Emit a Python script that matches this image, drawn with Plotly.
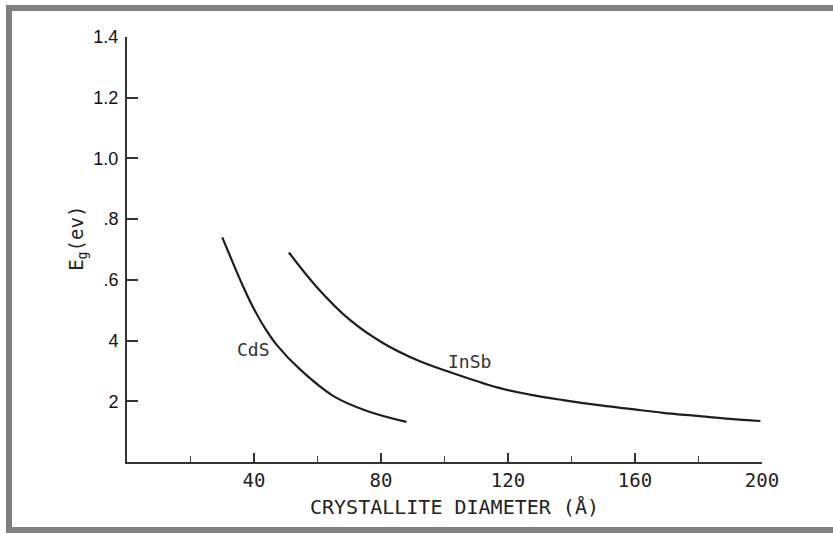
import plotly.graph_objects as go

# Data
cds_x = [30, 33.4, 36.5, 39.7, 43.5, 47.2, 54.5, 64.9, 75.6, 88]
cds_y = [0.74, 0.655, 0.58, 0.51, 0.44, 0.385, 0.305, 0.218, 0.168, 0.132]
insb_x = [51, 59.8, 70.2, 80.6, 91.3, 101.7, 116.5, 126.9, 137.3, 148, 158.4, 168.8, 179.5, 189.9, 199.5]
insb_y = [0.69, 0.576, 0.468, 0.392, 0.336, 0.296, 0.246, 0.222, 0.204, 0.188, 0.175, 0.162, 0.152, 0.142, 0.135]

y_tickvals = [0.2, 0.4, 0.6, 0.8, 1.0, 1.2, 1.4]
y_ticktext = ["2", "4", ".6", ".8", "1.0", "1.2", "1.4"]
x_tickvals = [40, 80, 120, 160, 200]
x_ticktext = ["40", "80", "120", "160", "200"]

ink = "#1e1e1e"
mono = "DejaVu Sans Mono"

fig = go.Figure()
fig.add_trace(go.Scatter(x=cds_x, y=cds_y, mode="lines",
                         line=dict(color=ink, width=2.2, shape="spline", smoothing=1.0),
                         showlegend=False, hoverinfo="skip"))
fig.add_trace(go.Scatter(x=insb_x, y=insb_y, mode="lines",
                         line=dict(color=ink, width=2.2, shape="spline", smoothing=1.0),
                         showlegend=False, hoverinfo="skip"))

fig.update_layout(
    width=833, height=534,
    margin=dict(l=127, r=71, t=37, b=72),
    paper_bgcolor="white", plot_bgcolor="white",
    xaxis=dict(range=[0, 200], showgrid=False, zeroline=False,
               showline=True, linecolor="#333", linewidth=2,
               ticks="inside", ticklen=9, tickwidth=1.5, tickcolor="#333",
               tickvals=x_tickvals, ticktext=x_ticktext,
               tickfont=dict(family=mono, size=19, color="#222"),
               minor=dict(ticks="inside", ticklen=6, tickwidth=1.2, tickcolor="#444",
                          tickvals=[20, 60, 100, 140, 180], showgrid=False)),
    yaxis=dict(range=[0, 1.4], showgrid=False, zeroline=False,
               showline=True, linecolor="#333", linewidth=2,
               ticks="inside", ticklen=11, tickwidth=1.5, tickcolor="#333",
               tickvals=y_tickvals, ticktext=y_ticktext, ticklabelstandoff=3,
               tickfont=dict(family="Liberation Sans", size=18, color="#111")),
)

fig.add_annotation(x=39.7, y=0.369, text="CdS", showarrow=False,
                   font=dict(family=mono, size=18, color="#333"))
fig.add_annotation(x=108, y=0.33, text="InSb", showarrow=False,
                   font=dict(family=mono, size=18, color="#333"))

fig.add_annotation(xref="paper", yref="paper", x=0.5165, y=-0.1059,
                   xanchor="center", yanchor="middle",
                   text="CRYSTALLITE DIAMETER (Å)", showarrow=False,
                   font=dict(family=mono, size=20, color="#222"))
fig.add_annotation(xref="paper", yref="paper", x=-0.079, y=0.527,
                   xanchor="center", yanchor="middle",
                   text="E<sub>g</sub>(ev)", showarrow=False, textangle=-90,
                   font=dict(family=mono, size=19, color="#222"))

# Gray scan frame; its right edge lies far outside the page
def px_x(p):
    return (p - 127) / 635

def px_y(p):
    return (462 - p) / 425

fig.add_shape(type="rect", xref="paper", yref="paper",
              x0=px_x(9), x1=px_x(1400), y0=px_y(530), y1=px_y(8),
              line=dict(color="#808080", width=6), fillcolor="rgba(0,0,0,0)")

fig.write_html("out.html")
